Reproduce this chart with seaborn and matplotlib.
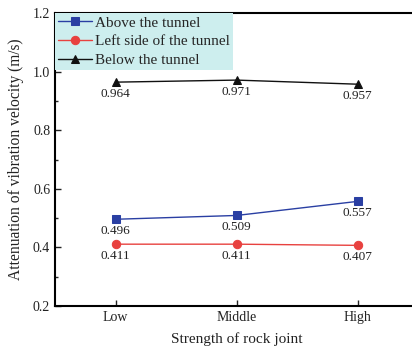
import matplotlib
matplotlib.use("Agg")
import matplotlib.pyplot as plt
from matplotlib.ticker import MultipleLocator
import seaborn as sns

categories = ["Low", "Middle", "High"]
above = [0.496, 0.509, 0.557]
left_side = [0.411, 0.411, 0.407]
below = [0.964, 0.971, 0.957]

sns.set_style("ticks")
plt.rcParams["font.family"] = ["Liberation Serif", "DejaVu Serif"]
plt.rcParams["mathtext.fontset"] = "stix"

fig = plt.figure(figsize=(4.12, 3.48), dpi=100)
ax = fig.add_axes([55 / 412, 42 / 348, 363 / 412, 293 / 348])

series = [
    ("Above the tunnel", above, "#2a3fa3", "s"),
    ("Left side of the tunnel", left_side, "#e8413f", "o"),
    ("Below the tunnel", below, "#111111", "^"),
]

for name, vals, col, mk in series:
    sns.lineplot(x=categories, y=vals, ax=ax, color=col, marker=mk,
                 markersize=6, markeredgecolor=col, linewidth=1.0,
                 label=name, sort=False)
    for i, v in enumerate(vals):
        ax.annotate(f"{v:.3f}", (i, v), xytext=(0, -8.5), textcoords="offset points",
                    ha="center", va="center", fontsize=9.5, color="#222222")

ax.set_xlim(-0.5, 2.5)
ax.set_ylim(0.2, 1.2)
ax.yaxis.set_major_locator(MultipleLocator(0.2))
ax.yaxis.set_minor_locator(MultipleLocator(0.1))
ax.yaxis.set_major_formatter(matplotlib.ticker.FormatStrFormatter("%.1f"))
ax.tick_params(axis="both", which="major", direction="in", length=4, width=1,
               labelsize=10, colors="#222222")
ax.tick_params(axis="y", which="minor", direction="in", length=2, width=1)
for s in ["left", "bottom", "top"]:
    ax.spines[s].set_linewidth(1.5)
    ax.spines[s].set_color("black")
ax.spines["right"].set_visible(False)

ax.set_xlabel("Strength of rock joint", fontsize=11, color="#222222", labelpad=6)
ax.set_ylabel("Attenuation of vibration velocity (m/s)", fontsize=11.2,
              color="#222222", labelpad=6)

leg = ax.legend(loc="upper left", borderaxespad=0, fontsize=11, frameon=True,
                fancybox=False, facecolor="#cdeeee", edgecolor="none", framealpha=1,
                handlelength=2.2, handletextpad=0.25, labelspacing=0.33,
                borderpad=0.2)

fig.savefig("out.png", dpi=100)
